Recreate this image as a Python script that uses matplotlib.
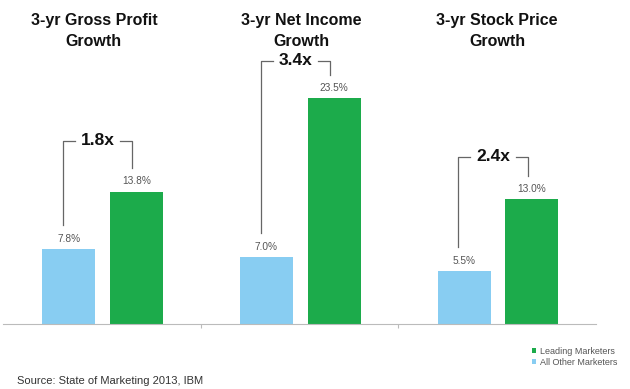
import matplotlib.pyplot as plt
from matplotlib.transforms import blended_transform_factory

# data
titles = ["3-yr Gross Profit\nGrowth", "3-yr Net Income\nGrowth", "3-yr Stock Price\nGrowth"]
other = [7.8, 7.0, 5.5]
leading = [13.8, 23.5, 13.0]
bracket_top = [19.1, 27.4, 17.4]
title_shift = [-0.04, 0.01, 0.0]

blue = "#88cdf2"
green = "#1cab4b"
narrow = ["Liberation Sans Narrow", "Liberation Sans", "DejaVu Sans"]

fig = plt.figure(figsize=(6.3, 3.89), dpi=100)
W, H = 630, 389
x0, x1 = 3, 596
y_base, y_top = 324, 50
ax = fig.add_axes([x0 / W, (H - y_base) / H, (x1 - x0) / W, (y_base - y_top) / H])

px_per_unit = 9.6
ax.set_xlim(-0.5, 2.5)
ax.set_ylim(0, (y_base - y_top) / px_per_unit)

xs = list(range(len(titles)))
w = 0.268
xb = [x - 0.167 for x in xs]
xg = [x + 0.175 for x in xs]
ax.bar(xb, other, width=w, color=blue, label="All Other Marketers", zorder=2)
ax.bar(xg, leading, width=w, color=green, label="Leading Marketers", zorder=2)

for i in xs:
    ax.text(xb[i], other[i] + 1.05, f"{other[i]:.1f}%", ha="center", va="center",
            fontsize=7.3, color="#555555", family="Liberation Sans")
    ax.text(xg[i], leading[i] + 1.05, f"{leading[i]:.1f}%", ha="center", va="center",
            fontsize=7.3, color="#555555", family="Liberation Sans")

    # bracket with multiplier
    lx = xb[i] - 0.03
    rx = xg[i] - 0.02
    top = bracket_top[i]
    mid = (lx + rx) / 2
    gap = 0.115
    lc = "#666666"
    ax.plot([lx, lx, mid - gap], [other[i] + 2.5, top, top], color=lc, lw=0.9, clip_on=False)
    ax.plot([mid + gap, rx, rx], [top, top, leading[i] + 2.4], color=lc, lw=0.9, clip_on=False)
    ax.text(mid, top, f"{leading[i] / other[i]:.1f}x", ha="center", va="center",
            fontsize=12.5, fontweight="bold", color="#111111", family=narrow)

# titles
tr = blended_transform_factory(ax.transData, fig.transFigure)
for i, t in enumerate(titles):
    ax.text(i + title_shift[i], 1 - 31 / H, t, transform=tr, ha="center", va="center",
            fontsize=11.5, fontweight="bold", color="#111111", family=narrow,
            linespacing=1.55)

for s in ["top", "right", "left"]:
    ax.spines[s].set_visible(False)
ax.spines["bottom"].set_color("#bbbbbb")
ax.spines["bottom"].set_linewidth(0.8)
ax.set_yticks([])
ax.set_xticks([0.5, 1.5])
ax.set_xticklabels([])
ax.tick_params(axis="x", length=3, color="#bbbbbb", width=0.8)

handles, labels = ax.get_legend_handles_labels()
leg = fig.legend(handles[::-1], labels[::-1], loc="upper left",
                 bbox_to_anchor=(527 / W, 1 - 342 / H), frameon=False,
                 fontsize=6.5, handlelength=0.55, handleheight=0.55,
                 handletextpad=0.35, labelspacing=0.25, borderpad=0)
for t in leg.get_texts():
    t.set_color("#555555")
    t.set_family("Liberation Sans")

fig.text(17 / W, 1 - 381 / H, "Source: State of Marketing 2013, IBM", ha="left", va="center",
         fontsize=8, color="#333333", family="Liberation Sans")

fig.savefig("out.png", dpi=100)
